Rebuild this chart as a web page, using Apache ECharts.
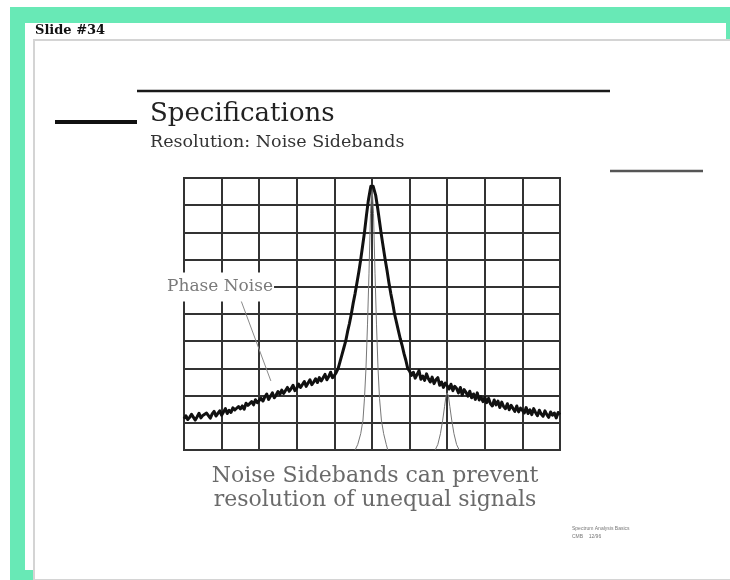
<!DOCTYPE html>
<html><head><meta charset="utf-8">
<script src="https://cdn.jsdelivr.net/npm/echarts@6/dist/echarts.min.js"></script>
<style>html,body{margin:0;padding:0;background:#fff}#c{width:730px;height:580px}</style>
</head><body><div id="c"></div>
<script>
// ---- data (screen divisions: 10 x 10) ----
const FLOOR_STEP = 0.05;
const leftFloorStart = 0.0;
const leftFloorY = [
  1.15, 1.26, 1.12, 1.20, 1.31, 1.24, 1.10, 1.22, 1.35, 1.18, 1.27,
  1.21, 1.36, 1.30, 1.17, 1.33, 1.42, 1.25, 1.30, 1.44, 1.28,
  1.40, 1.52, 1.34, 1.46, 1.38, 1.55, 1.47, 1.40, 1.60, 1.51,
  1.62, 1.50, 1.72, 1.64, 1.58, 1.78, 1.66, 1.85, 1.74, 1.70,
  1.90, 1.80, 1.95, 2.06, 1.86, 1.98, 2.10, 1.92, 2.02, 2.15,
  2.04, 2.20, 2.08, 2.14, 2.30, 2.16, 2.26, 2.38, 2.18, 2.28,
  2.42, 2.30, 2.36, 2.52, 2.34, 2.46, 2.58, 2.40, 2.50, 2.62,
  2.48, 2.66, 2.54, 2.60, 2.78, 2.58, 2.70, 2.86, 2.66, 2.74
];
const peakX = [4.05,4.10,4.15,4.20,4.25,4.30,4.35,4.40,4.45,4.50,4.55,4.60,4.65,4.70,4.75,4.80,4.85,4.90,4.95,4.97,5.00,
  5.03,5.05,5.10,5.15,5.20,5.25,5.30,5.35,5.40,5.45,5.50,5.55,5.60,5.65,5.70,5.75,5.80,5.85,5.90,5.95];
const peakY = [2.85,3.00,3.25,3.50,3.75,4.00,4.35,4.65,5.00,5.40,5.75,6.15,6.55,7.00,7.50,8.00,8.60,9.15,9.55,9.70,9.75,
  9.70,9.60,9.35,8.90,8.40,7.90,7.45,7.00,6.60,6.15,5.75,5.40,5.00,4.70,4.40,4.10,3.85,3.55,3.30,3.00];
const rightFloorStart = 6.0;
const rightFloorY = [
  2.90, 2.74, 2.86, 2.64, 2.78, 2.92, 2.60, 2.72, 2.56, 2.80, 2.62,
  2.50, 2.68, 2.44, 2.58, 2.66, 2.38, 2.50, 2.30, 2.46, 2.36,
  2.24, 2.42, 2.18, 2.34, 2.26, 2.10, 2.30, 2.02, 2.22, 2.12,
  1.98, 2.16, 1.92, 2.06, 1.86, 2.10, 1.84, 1.96, 1.78, 1.94,
  1.74, 1.90, 1.70, 1.62, 1.84, 1.66, 1.80, 1.56, 1.76, 1.60,
  1.52, 1.70, 1.48, 1.64, 1.58, 1.42, 1.62, 1.40, 1.54, 1.46,
  1.36, 1.56, 1.34, 1.48, 1.30, 1.52, 1.38, 1.26, 1.46, 1.32,
  1.24, 1.44, 1.30, 1.20, 1.40, 1.28, 1.36, 1.18, 1.38, 1.30
];
const bigSignalX = [4.55,4.62,4.70,4.76,4.80,4.84,4.88,4.92,4.96,5.00,5.04,5.08,5.12,5.16,5.20,5.25,5.31,5.38,5.42];
const bigSignalY = [0.00,0.20,0.60,1.10,1.90,3.00,4.60,6.50,8.70,9.75,8.70,6.50,4.60,3.00,1.90,1.10,0.60,0.20,0.00];
const smallSignalX = [6.68,6.75,6.82,6.88,6.93,6.97,7.00,7.03,7.07,7.12,7.18,7.25,7.32];
const smallSignalY = [0.00,0.20,0.60,1.10,1.60,2.00,2.10,2.00,1.60,1.10,0.60,0.20,0.00];
const arrowFrom = [1.52, 5.48];
const arrowTo = [2.31, 2.54];

// ---- build series data ----
const trace = [];
leftFloorY.forEach((y, i) => trace.push([+(leftFloorStart + i * FLOOR_STEP).toFixed(2), y]));
peakX.forEach((x, i) => trace.push([x, peakY[i]]));
rightFloorY.forEach((y, i) => trace.push([+(rightFloorStart + i * FLOOR_STEP).toFixed(2), y]));
const big = bigSignalX.map((x, i) => [x, bigSignalY[i]]);
const small = smallSignalX.map((x, i) => [x, smallSignalY[i]]);

const SERIF = '"DejaVu Serif", serif';
const chart = echarts.init(document.getElementById('c'), null, {renderer: 'canvas'});
chart.setOption({
  backgroundColor: '#ffffff',
  animation: false,
  grid: {left: 184, top: 178, width: 376, height: 272, show: true, borderColor: '#333', borderWidth: 2, backgroundColor: 'transparent'},
  xAxis: {type: 'value', min: 0, max: 10, interval: 1,
    axisLine: {show: false}, axisTick: {show: false}, axisLabel: {show: false},
    splitLine: {show: true, lineStyle: {color: '#333', width: 2}}},
  yAxis: {type: 'value', min: 0, max: 10, interval: 1,
    axisLine: {show: false}, axisTick: {show: false}, axisLabel: {show: false},
    splitLine: {show: true, lineStyle: {color: '#333', width: 2}}},
  series: [
    {type: 'line', data: big, symbol: 'none', z: 3, lineStyle: {color: '#777', width: 1}},
    {type: 'line', data: small, symbol: 'none', z: 3, lineStyle: {color: '#777', width: 1},
      markLine: {silent: true, symbol: ['none', 'arrow'], symbolSize: [0, 9], label: {show: false},
        lineStyle: {color: '#8a8a8a', width: 1, type: 'solid'},
        data: [[{coord: arrowFrom}, {coord: arrowTo}]]}},
    {type: 'line', data: trace, symbol: 'none', z: 5, lineStyle: {color: '#111', width: 3, join: 'round'}}
  ],
  graphic: [
    {type: 'rect', z: -20, silent: true, shape: {x: 10, y: 7, width: 720, height: 573}, style: {fill: '#68e9b6'}},
    {type: 'rect', z: -19, silent: true, shape: {x: 25, y: 23, width: 701, height: 547}, style: {fill: '#ffffff'}},
    {type: 'rect', z: -18, silent: true, shape: {x: 34, y: 40, width: 700, height: 540}, style: {fill: '#ffffff', stroke: '#d4d4d4', lineWidth: 2}},
    {type: 'text', z: 50, style: {text: 'Slide #34', x: 35, y: 35 - 0.3 * 13, font: 'bold 13px ' + SERIF, fill: '#111', verticalAlign: 'middle'}},
    {type: 'line', z: 50, shape: {x1: 137, y1: 91, x2: 610, y2: 91}, style: {stroke: '#1a1a1a', lineWidth: 2.4}},
    {type: 'line', z: 50, shape: {x1: 55, y1: 122, x2: 137, y2: 122}, style: {stroke: '#111', lineWidth: 4}},
    {type: 'line', z: 50, shape: {x1: 610, y1: 171, x2: 703, y2: 171}, style: {stroke: '#555', lineWidth: 2.4}},
    {type: 'text', z: 50, style: {text: 'Specifications', x: 150, y: 122 - 0.3 * 26, font: '26px ' + SERIF, fill: '#222', verticalAlign: 'middle'}},
    {type: 'text', z: 50, style: {text: 'Resolution: Noise Sidebands', x: 150, y: 148 - 0.3 * 17.5, font: '17.5px ' + SERIF, fill: '#333', verticalAlign: 'middle'}},
    {type: 'text', z: 100, style: {text: 'Phase Noise', x: 163, y: 292 - 0.3 * 17, font: '17px ' + SERIF, fill: '#7a7a7a', verticalAlign: 'middle',
      backgroundColor: '#ffffff', padding: [6, 1, 6, 4]}},
    {type: 'text', z: 50, style: {text: 'Noise Sidebands can prevent', x: 375, y: 483 - 0.3 * 22, font: '22px ' + SERIF, fill: '#6a6a6a', align: 'center', verticalAlign: 'middle'}},
    {type: 'text', z: 50, style: {text: 'resolution of unequal signals', x: 375, y: 507 - 0.3 * 22, font: '22px ' + SERIF, fill: '#6a6a6a', align: 'center', verticalAlign: 'middle'}},
    {type: 'text', z: 50, style: {text: 'Spectrum Analysis Basics', x: 572, y: 529, font: '5px "Liberation Sans", sans-serif', fill: '#777', verticalAlign: 'middle'}},
    {type: 'text', z: 50, style: {text: 'CMB    12/96', x: 572, y: 537, font: '5px "Liberation Sans", sans-serif', fill: '#777', verticalAlign: 'middle'}}
  ]
});
</script></body></html>
